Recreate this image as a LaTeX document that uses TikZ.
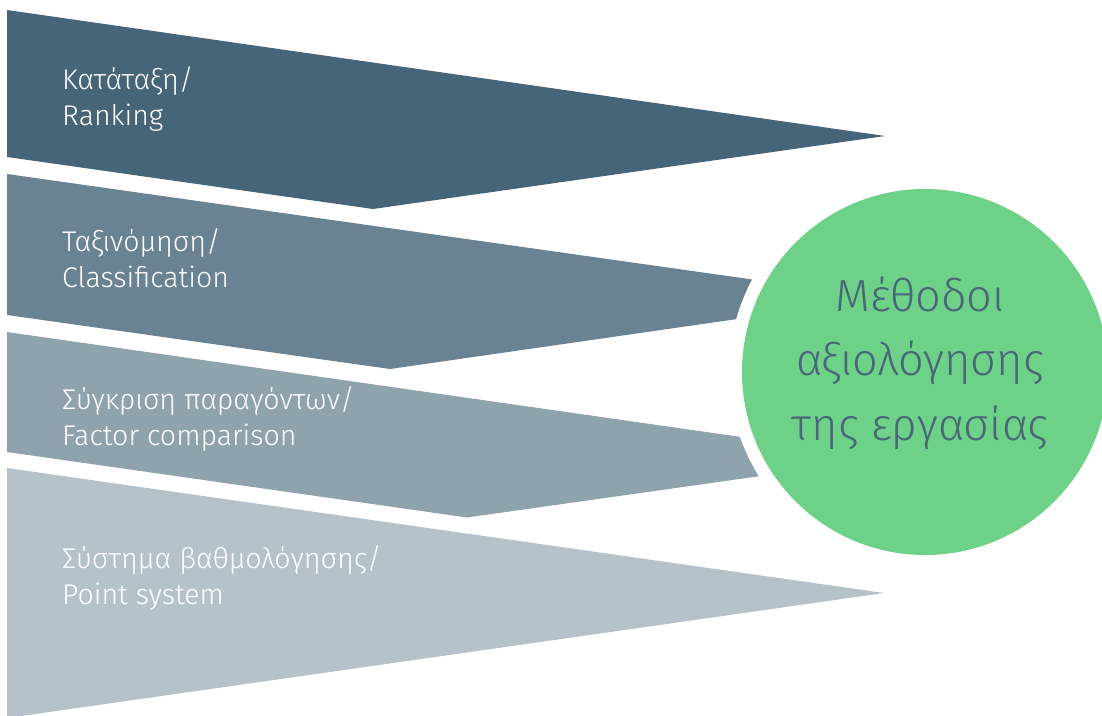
\documentclass[tikz,border=0pt]{standalone}
\usepackage{fontspec}
\setmainfont{Fira Sans Light}
\definecolor{cone}{HTML}{466579}
\definecolor{ctwo}{HTML}{6A8393}
\definecolor{cthree}{HTML}{8FA3AF}
\definecolor{cfour}{HTML}{B5C2CA}
\definecolor{cgreen}{HTML}{6DD188}
\definecolor{ctext}{HTML}{4A6679}
\tikzset{
  lbl/.style={text=white, align=left, inner sep=0pt, font=\fontsize{28.5}{36}\selectfont},
  hub/.style={circle, fill=cgreen, minimum size=366pt, inner sep=0pt},
  hubtext/.style={text=ctext, align=center, inner sep=0pt, font=\fontsize{45}{64.5}\selectfont}
}
\begin{document}
\begin{tikzpicture}[x=1pt,y=-1pt]
\useasboundingbox (0,0) rectangle (1102,715);
\begin{scope}
\clip (0,0) rectangle (1102,715);
\fill[cfour] (7,468) -- (884,593) -- (7,718) -- cycle;
\fill[cthree] (7,332) -- (888,458) -- (467,517.5) -- (7,452) -- cycle;
\fill[ctwo] (7,174) -- (883,298) -- (390,369) -- (7,315) -- cycle;
\fill[cone] (7,10) -- (885,136) -- (373,209) -- (7,157) -- cycle;
\fill[white] (925,372) circle[radius=196pt];
\node[hub] (hub) at (925,372) {};
\end{scope}
\node[hubtext] (title) at (920,363) {Μέθοδοι\\αξιολόγησης\\της εργασίας};
\node[lbl, anchor=base west] (l1) at (62,125) {Κατάταξη/\\Ranking};
\node[lbl, anchor=base west] (l2) at (62,287) {Ταξινόμηση/\\Classification};
\node[lbl, anchor=base west] (l3) at (62,445) {Σύγκριση παραγόντων/\\Factor comparison};
\node[lbl, anchor=base west] (l4) at (62,604) {Σύστημα βαθμολόγησης/\\Point system};
\end{tikzpicture}
\end{document}
